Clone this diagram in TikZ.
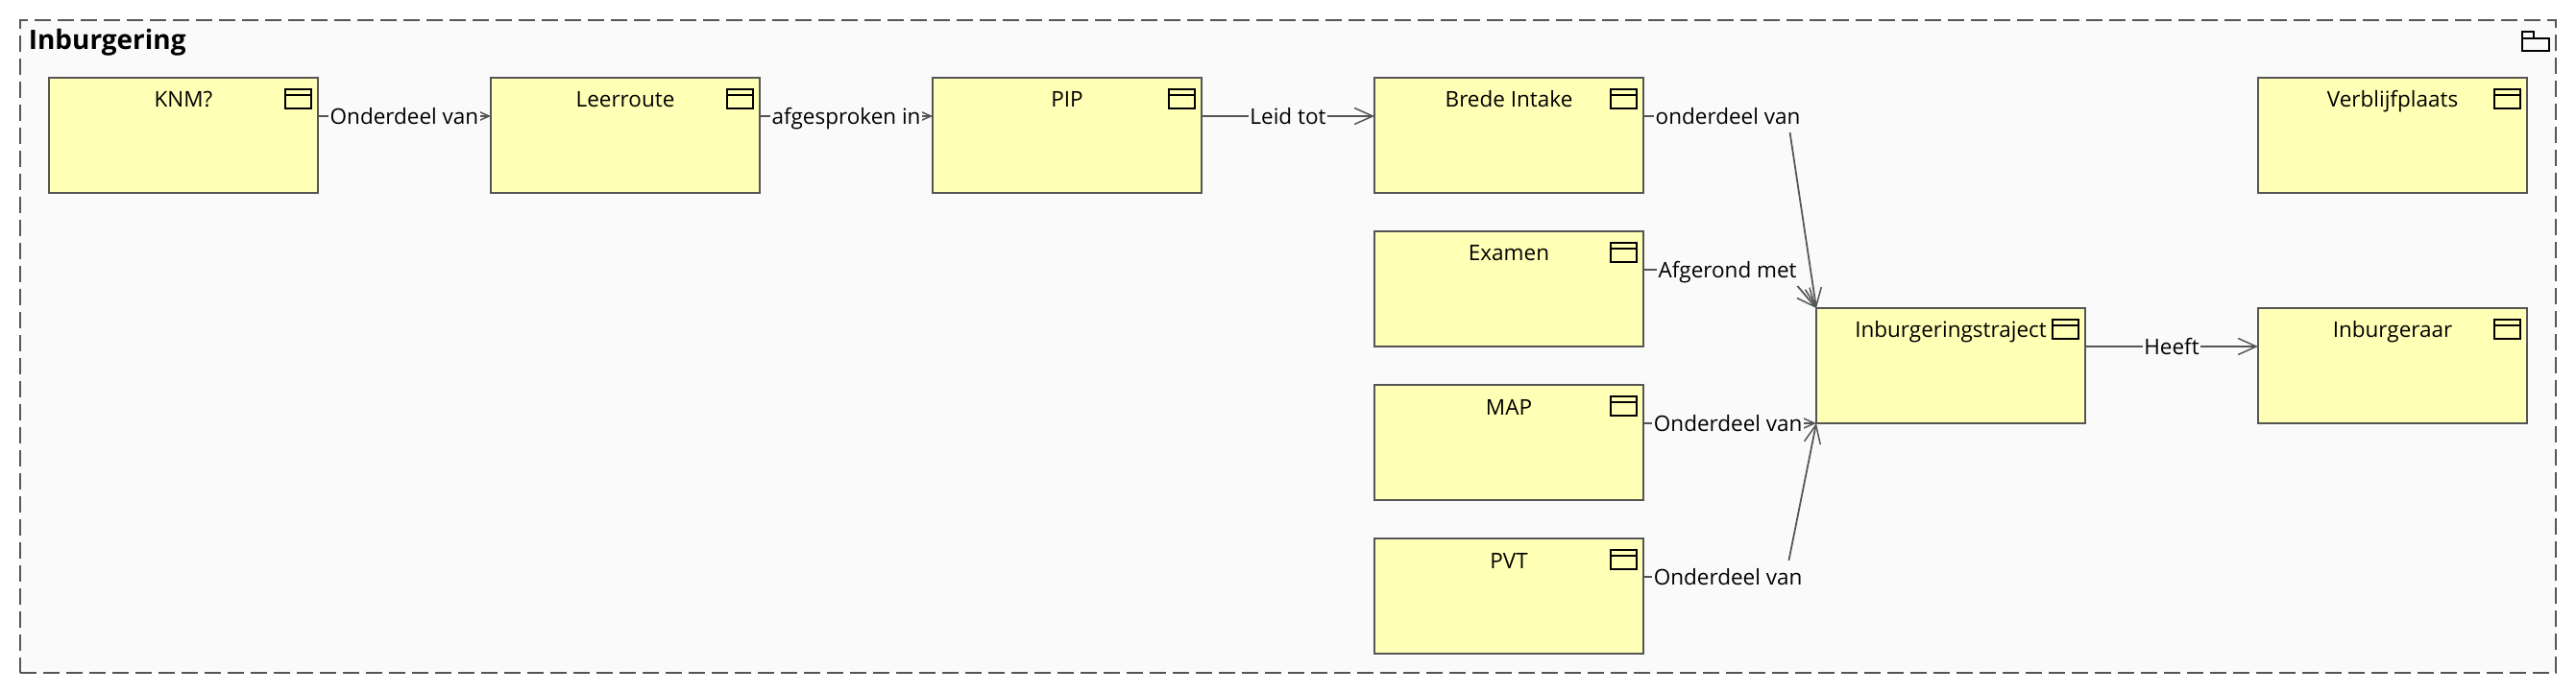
\documentclass[tikz,border=0pt]{standalone}
\usepackage{fontspec}
\setmainfont{Open Sans}
\usepackage{xcolor}
\usetikzlibrary{arrows.meta, positioning}

\definecolor{boxyellow}{HTML}{FFFFB5}
\definecolor{pkggray}{HTML}{FAFAFA}
\definecolor{linegray}{HTML}{555555}

% class icon in the top right corner of a box
\newcommand{\boxicon}[1]{
    \draw[icon] ([xshift=-0.68cm,yshift=-0.24cm]#1.north east) rectangle ++(0.54cm,-0.4cm);
    \draw[icon] ([xshift=-0.68cm,yshift=-0.36cm]#1.north east) -- ++(0.54cm,0);
}

\begin{document}
\begin{tikzpicture}[
    node distance=0.8cm and 3.6cm,
    box/.style={
        rectangle, minimum width=5.6cm, inner sep=0pt, outer sep=0pt, text centered,
        text height=0.62cm, text depth=1.78cm, font=\fontsize{12.8}{14}\selectfont,
        fill=boxyellow, draw=linegray, line width=0.04cm
    },
    package/.style={
        rectangle, minimum width=52.8cm, minimum height=13.6cm, inner sep=0pt, outer sep=0pt,
        fill=pkggray, draw=linegray, line width=0.035cm, dash pattern=on 0.34cm off 0.14cm
    },
    arrow/.style={-{Straight Barb[length=0.38cm, width=0.34cm, line width=0.03cm]}, line width=0.035cm, draw=linegray},
    rel/.style={
        font=\fontsize{12.8}{14}\selectfont, fill=pkggray, inner xsep=0.03cm, inner ysep=0.04cm,
        text height=0.47cm, text depth=0.12cm
    },
    title/.style={font=\fontsize{15.9}{18}\selectfont\bfseries, inner sep=0pt, anchor=base west},
    icon/.style={draw=black, line width=0.04cm}
]

% Page and package
\path[use as bounding box, fill=white] (0,0) rectangle (53.64,-14.44);
\node[package, anchor=north west] (pkg) at (0.42,-0.42) {};
\node[title] (pkgtitle) at ([xshift=0.17cm,yshift=-0.61cm]pkg.north west) {Inburgering};

% Folder icon
\draw[icon] ([xshift=-0.7cm,yshift=-0.24cm]pkg.north east) rectangle ++(0.24cm,-0.14cm);
\draw[icon] ([xshift=-0.7cm,yshift=-0.38cm]pkg.north east) rectangle ++(0.56cm,-0.26cm);

% Top row
\node[box, anchor=north west] (knm) at (1.02,-1.62) {KNM?};
\node[box, right=of knm] (leerroute) {Leerroute};
\node[box, right=of leerroute] (pip) {PIP};
\node[box, right=of pip] (intake) {Brede Intake};

% Column below the intake
\node[box, below=of intake] (examen) {Examen};
\node[box, below=of examen] (map) {MAP};
\node[box, below=of map] (pvt) {PVT};

% Right side
\node[box, right=of map, yshift=1.6cm] (traject) {Inburgeringstraject};
\node[box, right=of traject] (inburgeraar) {Inburgeraar};
\node[box, above=2.4cm of inburgeraar] (verblijf) {Verblijfplaats};

% Icons
\boxicon{knm}
\boxicon{leerroute}
\boxicon{pip}
\boxicon{intake}
\boxicon{examen}
\boxicon{map}
\boxicon{pvt}
\boxicon{traject}
\boxicon{inburgeraar}
\boxicon{verblijf}

% Arrows top row
\draw[arrow] ([yshift=0.4cm]knm.east) -- node[rel] (rel1) {Onderdeel van} ([yshift=0.4cm]leerroute.west);
\draw[arrow] ([yshift=0.4cm]leerroute.east) -- node[rel] (rel2) {afgesproken in} ([yshift=0.4cm]pip.west);
\draw[arrow] ([yshift=0.4cm]pip.east) -- node[rel] (rel3) {Leid tot} ([yshift=0.4cm]intake.west);

% Arrows into the traject
\draw[arrow] ([yshift=0.4cm]intake.east) -- ++(3cm,0) node[rel, pos=0.587] (rel4) {onderdeel van} -- (traject.north west);
\draw[arrow] ([yshift=0.4cm]examen.east) -- ++(2.92cm,0) node[rel, pos=0.6] (rel5) {Afgerond met} -- (traject.north west);
\draw[arrow] ([yshift=0.4cm]map.east) -- node[rel, pos=0.49] (rel6) {Onderdeel van} (traject.south west);
\draw[arrow] ([yshift=0.4cm]pvt.east) -- ++(2.96cm,0) node[rel, pos=0.595] (rel7) {Onderdeel van} -- (traject.south west);

% Arrow to the right
\draw[arrow] ([yshift=0.4cm]traject.east) -- node[rel, pos=0.5] (rel8) {Heeft} ([yshift=0.4cm]inburgeraar.west);

\end{tikzpicture}
\end{document}
